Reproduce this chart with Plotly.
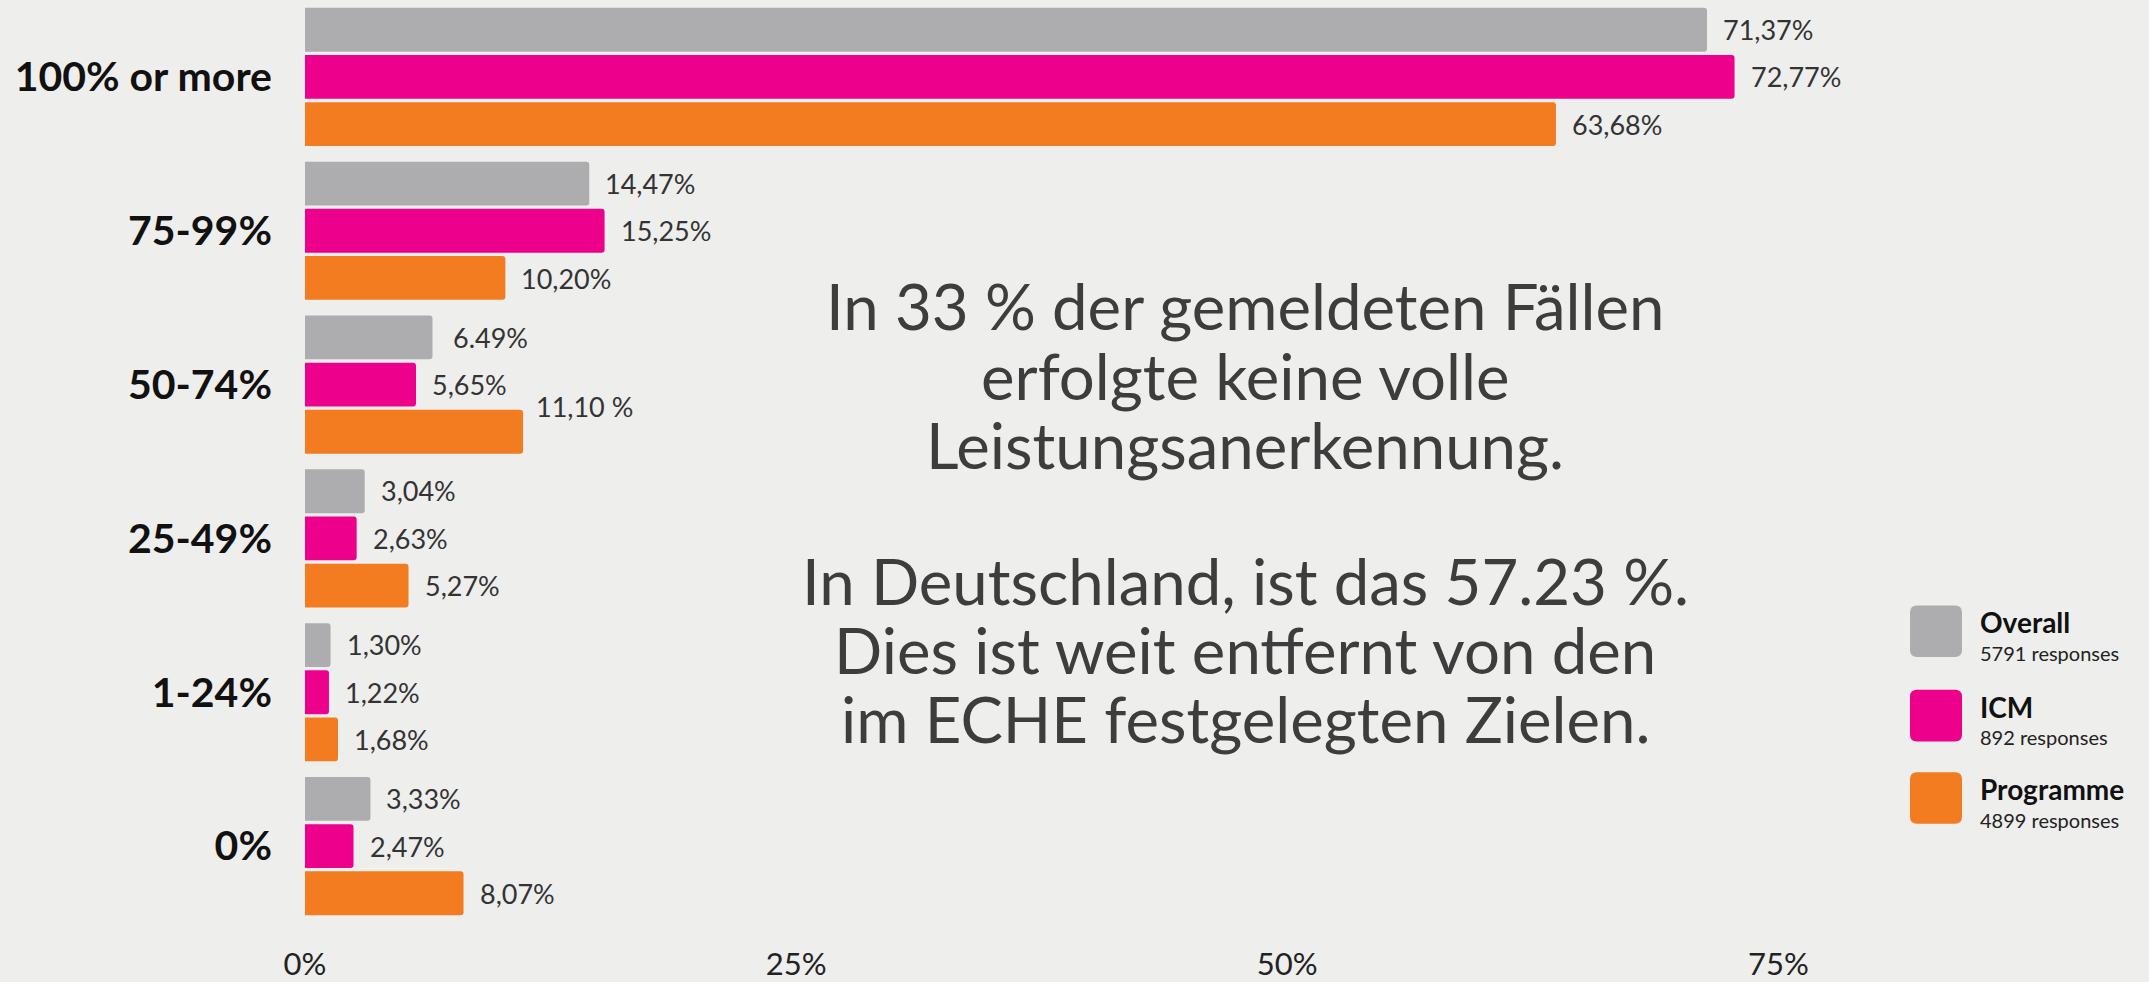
import plotly.graph_objects as go

# ---------------- data ----------------
categories = ["100% or more", "75-99%", "50-74%", "25-49%", "1-24%", "0%"]
series_names = ["Overall", "ICM", "Programme"]
series_responses = ["5791 responses", "892 responses", "4899 responses"]
overall = [71.37, 14.47, 6.49, 3.04, 1.30, 3.33]
icm = [72.77, 15.25, 5.65, 2.63, 1.22, 2.47]
programme = [63.68, 10.20, 11.10, 5.27, 1.68, 8.07]
overall_labels = ["71,37%", "14,47%", "6.49%", "3,04%", "1,30%", "3,33%"]
icm_labels = ["72,77%", "15,25%", "5,65%", "2,63%", "1,22%", "2,47%"]
programme_labels = ["63,68%", "10,20%", "11,10 %", "5,27%", "1,68%", "8,07%"]
x_tickvals = [0, 25, 50, 75]
x_ticktext = ["0%", "25%", "50%", "75%"]
message_lines = [
    "In 33 % der gemeldeten Fällen",
    "erfolgte keine volle",
    "Leistungsanerkennung.",
    "In Deutschland, ist das 57.23 %.",
    "Dies ist weit entfernt von den",
    "im ECHE festgelegten Zielen.",
]

# ---------------- style ----------------
W, H = 2149, 982
ML, MR, MT, MB = 305, 76, 0, 52
PW, PH = W - ML - MR, H - MT - MB
colors = ["#adadaf", "#ec008c", "#f47c20"]
BG = "#eeeeec"
TXT = "#333333"
FONT = "Lato"


def px_x(x):
    return (x - ML) / PW


def px_y(y):
    return 1 - (y - MT) / PH


fig = go.Figure()
all_vals = [overall, icm, programme]
all_labels = [overall_labels, icm_labels, programme_labels]
for name, vals, col in zip(series_names, all_vals, colors):
    fig.add_trace(go.Bar(
        y=categories, x=vals, orientation="h", name=name,
        marker=dict(color=col, line=dict(width=0), cornerradius=3),
        showlegend=False, hoverinfo="x+y",
    ))

# value labels
shifts = [47.5, 0, -47.5]
annotations = []
for si, (vals, labs) in enumerate(zip(all_vals, all_labels)):
    for ci, (v, lab) in enumerate(zip(vals, labs)):
        dy = 0
        dx = 14
        if lab == "11,10 %":
            dy = 26
            dx = 11
        if lab == "6.49%":
            dx = 19
        annotations.append(dict(
            x=v, y=categories[ci], xref="x", yref="y", text=lab,
            showarrow=False, xanchor="left", yanchor="middle",
            xshift=dx, yshift=shifts[si] + dy,
            font=dict(family=FONT, size=27, color=TXT),
        ))

# central message
line_centers = [308, 378, 448, 585, 654, 724]
for line, yc in zip(message_lines, line_centers):
    annotations.append(dict(
        x=px_x(1245), y=px_y(yc), xref="paper", yref="paper", text=line,
        showarrow=False, xanchor="center", yanchor="middle",
        font=dict(family=FONT, size=63.5, color="#3d3d3d"),
    ))

# custom legend
shapes = []
sq_tops = [610, 695, 778]
for name, resp, col, top in zip(series_names, series_responses, colors, sq_tops):
    x0, x1 = 1910, 1962
    y0, y1 = top, top + 52
    r = 7
    X = px_x
    Y = px_y
    path = (
        f"M {X(x0 + r)} {Y(y0)} L {X(x1 - r)} {Y(y0)} Q {X(x1)} {Y(y0)} {X(x1)} {Y(y0 + r)} "
        f"L {X(x1)} {Y(y1 - r)} Q {X(x1)} {Y(y1)} {X(x1 - r)} {Y(y1)} "
        f"L {X(x0 + r)} {Y(y1)} Q {X(x0)} {Y(y1)} {X(x0)} {Y(y1 - r)} "
        f"L {X(x0)} {Y(y0 + r)} Q {X(x0)} {Y(y0)} {X(x0 + r)} {Y(y0)} Z"
    )
    shapes.append(dict(type="path", path=path, xref="paper", yref="paper",
                       fillcolor=col, line=dict(width=0), layer="above"))
    annotations.append(dict(
        x=px_x(1978), y=px_y(top + 17), xref="paper", yref="paper", text=name,
        showarrow=False, xanchor="left", yanchor="middle",
        font=dict(family=FONT, size=28, color="#111111", weight="bold"),
    ))
    annotations.append(dict(
        x=px_x(1978), y=px_y(top + 48), xref="paper", yref="paper", text=resp,
        showarrow=False, xanchor="left", yanchor="middle",
        font=dict(family=FONT, size=20, color="#222222"),
    ))

fig.update_layout(
    width=W, height=H,
    margin=dict(l=ML, r=MR, t=MT, b=MB, pad=0),
    paper_bgcolor=BG, plot_bgcolor=BG,
    barmode="group", bargap=0.08, bargroupgap=0.07,
    annotations=annotations, shapes=shapes,
    font=dict(family=FONT, color=TXT),
)
fig.update_xaxes(
    range=[0, 90], tickvals=x_tickvals, ticktext=x_ticktext,
    showgrid=False, zeroline=False, showline=False,
    tickfont=dict(family=FONT, size=31, color="#222222"),
    ticklabelstandoff=20,
)
fig.update_yaxes(
    type="category", categoryorder="array", categoryarray=categories,
    autorange="reversed", showgrid=False, zeroline=False, showline=False,
    tickfont=dict(family=FONT, size=41, color="#111111", weight="bold"),
    ticklabelstandoff=32,
)

fig.write_html(
    "out.html",
    config={"displayModeBar": False},
    post_script="document.body.style.margin='0';document.body.style.overflow='hidden';"
                "document.body.style.background='" + BG + "';",
)
